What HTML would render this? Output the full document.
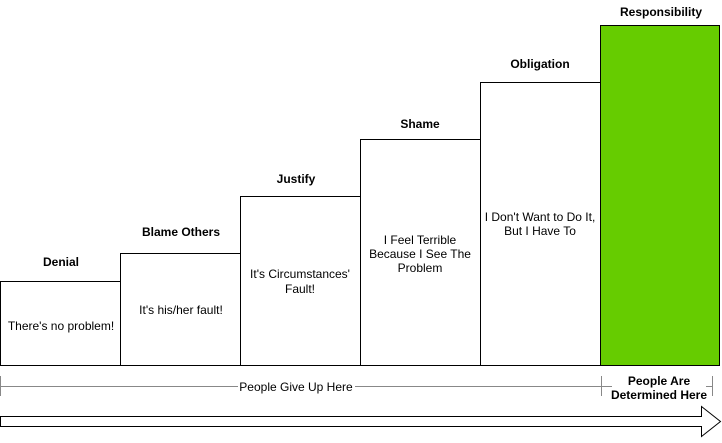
<!DOCTYPE html>
<html><head><style>
body{margin:0;background:#fff;}
text{font-family:"Liberation Sans",Arial,sans-serif;font-size:12px;fill:#000;}
.b{font-weight:bold;}
</style></head><body>
<svg width="722" height="438" viewBox="0 0 722 438" xmlns="http://www.w3.org/2000/svg">
<g stroke="#000" stroke-width="1" fill="#fff">
<rect x="0.5" y="281.5" width="120" height="84"/>
<rect x="120.5" y="253.5" width="120" height="112"/>
<rect x="240.5" y="196.5" width="120" height="169"/>
<rect x="360.5" y="139.5" width="120" height="226"/>
<rect x="480.5" y="82.5" width="120" height="283"/>
<rect x="600.5" y="25.5" width="119" height="340" fill="#66CC00"/>
</g>
<g text-anchor="middle">
<text class="b" x="61" y="266">Denial</text>
<text class="b" x="181" y="236">Blame Others</text>
<text class="b" x="296" y="183">Justify</text>
<text class="b" x="420" y="128">Shame</text>
<text class="b" x="540" y="68">Obligation</text>
<text class="b" x="661" y="16">Responsibility</text>
<text x="61" y="330">There's no problem!</text>
<text x="181" y="314">It's his/her fault!</text>
<text x="300" y="278">It's Circumstances'</text>
<text x="300" y="293">Fault!</text>
<text x="420" y="244">I Feel Terrible</text>
<text x="420" y="258">Because I See The</text>
<text x="420" y="272">Problem</text>
<text x="540" y="221">I Don't Want to Do It,</text>
<text x="540" y="235">But I Have To</text>
</g>
<g stroke="#888" stroke-width="1">
<line x1="0.5" y1="376" x2="0.5" y2="396"/>
<line x1="601.5" y1="376" x2="601.5" y2="396"/>
<line x1="712.5" y1="376" x2="712.5" y2="396"/>
<line x1="0" y1="386.5" x2="238" y2="386.5"/>
<line x1="355" y1="386.5" x2="601" y2="386.5"/>
<line x1="601" y1="386.5" x2="612" y2="386.5"/>
<line x1="706" y1="386.5" x2="712" y2="386.5"/>
</g>
<text x="296" y="391" text-anchor="middle">People Give Up Here</text>
<text class="b" x="659" y="385" text-anchor="middle">People Are</text>
<text class="b" x="659" y="399" text-anchor="middle">Determined Here</text>
<polygon points="0.5,416.5 701.5,416.5 701.5,406.5 720.5,421.5 701.5,436.5 701.5,426.5 0.5,426.5" fill="#fff" stroke="#000" stroke-width="1"/>
</svg>
</body></html>
